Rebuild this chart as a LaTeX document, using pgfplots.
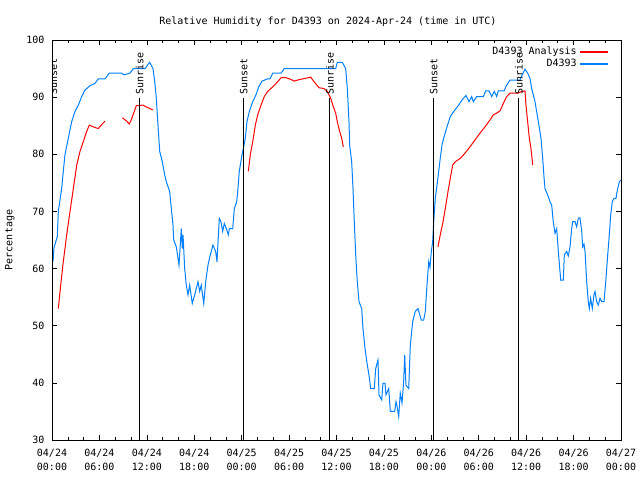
\documentclass[border=0pt]{standalone}
\usepackage{fontspec}
\setmainfont{DejaVu Sans Mono}
\usepackage{pgfplots}
\pgfplotsset{compat=1.18}
\definecolor{gblue}{RGB}{0,128,255}
\definecolor{gred}{RGB}{255,0,0}
\pgfplotstableread{
h v
0.13 61.2
0.25 63.6
0.67 65.6
0.80 70.0
1.23 74.1
1.43 77.0
1.64 79.9
2.06 82.8
2.49 85.7
2.91 87.5
3.33 88.6
3.76 90.1
4.18 91.25
4.81 92.0
5.44 92.4
5.86 93.2
6.71 93.2
7.25 94.2
8.82 94.2
9.11 93.9
9.87 94.2
10.29 95.0
11.77 95.0
12.36 96.1
12.78 95.0
13.00 92.7
13.20 89.8
13.41 85.1
13.63 80.5
13.96 78.7
14.26 76.4
14.46 75.2
14.89 73.5
15.10 70.5
15.31 67.6
15.40 65.0
15.73 63.8
16.07 60.6
16.36 67.0
16.49 63.5
16.58 65.9
16.79 60.0
16.99 57.1
17.21 55.4
17.42 57.1
17.75 53.9
18.06 55.4
18.47 57.7
18.69 56.0
18.89 57.1
19.20 53.9
19.45 57.7
19.74 60.6
20.03 62.4
20.37 64.1
20.71 63.0
20.88 61.2
21.01 64.7
21.17 68.8
21.38 68.2
21.60 66.5
21.80 67.9
22.11 66.8
22.31 65.9
22.44 67.0
22.87 67.0
23.07 70.5
23.37 71.7
23.50 73.5
23.70 77.0
24.04 79.9
24.21 81.0
24.46 82.8
24.67 85.7
24.97 87.5
25.40 89.2
25.81 90.4
26.16 91.8
26.57 92.8
27.29 93.2
27.58 93.2
27.93 94.2
28.98 94.2
29.39 95.0
35.90 95.0
36.10 96.1
36.73 96.1
37.16 95.0
37.37 91.5
37.58 85.7
37.67 81.6
37.92 78.7
38.09 74.0
38.25 68.2
38.43 62.4
38.63 57.7
38.85 54.2
39.19 53.0
39.35 49.5
39.61 46.0
39.90 43.1
40.11 41.4
40.33 39.0
40.78 39.0
40.96 42.5
41.25 44.0
41.38 37.9
41.72 37.0
41.88 39.9
42.14 39.9
42.26 37.9
42.61 39.0
42.81 35.0
43.36 35.0
43.53 36.7
43.66 35.9
43.87 34.1
44.07 38.2
44.29 36.5
44.50 40.2
44.63 44.9
44.79 39.6
45.14 39.0
45.34 46.6
45.64 50.7
45.97 52.5
46.31 53.0
46.48 52.2
46.73 51.0
47.03 51.0
47.24 52.5
47.45 57.1
47.67 61.2
47.83 60.2
48.00 63.0
48.17 64.7
48.30 68.2
48.50 72.3
48.72 74.6
48.93 77.0
49.13 79.3
49.35 81.6
49.56 82.8
49.98 84.8
50.40 86.6
50.83 87.5
51.46 88.6
51.88 89.5
52.39 90.3
52.77 89.2
53.11 90.1
53.31 89.2
53.74 90.1
54.58 90.1
54.88 91.1
55.30 91.1
55.64 90.1
55.97 91.0
56.27 90.1
56.47 91.1
57.23 91.1
57.41 91.8
57.95 93.0
59.22 93.0
59.51 93.9
59.85 94.9
60.19 94.2
60.48 93.3
60.70 91.5
61.12 89.2
61.54 85.7
61.88 82.8
62.09 79.3
62.26 76.0
62.38 74.0
62.72 72.9
63.02 71.7
63.23 71.1
63.43 68.2
63.65 66.2
63.86 67.0
64.07 63.0
64.28 59.5
64.37 58.0
64.70 58.0
64.83 62.4
65.13 63.0
65.33 62.2
65.55 63.8
65.76 67.0
65.89 68.2
66.18 68.2
66.39 67.3
66.60 68.8
66.81 68.9
67.03 66.5
67.15 63.8
67.32 64.3
67.45 63.0
67.66 57.7
67.86 54.2
67.99 53.0
68.16 54.8
68.37 53.0
68.58 55.4
68.71 56.0
68.93 54.2
69.13 53.6
69.34 54.8
69.56 54.2
69.85 54.2
70.07 57.7
70.32 62.4
70.52 65.9
70.70 69.4
70.90 71.7
71.12 72.3
71.37 72.3
71.54 73.75
71.79 75.2
72.00 75.5
}\obs
\pgfplotstableread{
h v
0.80 53.0
1.10 57.1
1.43 61.2
1.86 65.9
2.28 70.0
2.70 74.0
3.13 78.1
3.54 80.5
3.96 82.2
4.39 84.0
4.72 85.1
5.23 84.8
5.86 84.5
6.29 85.2
6.71 85.8
7.5 nan
8.90 86.4
9.45 85.8
9.78 85.3
10.09 86.2
10.25 86.9
10.67 88.5
11.51 88.6
11.93 88.3
12.78 87.75
18 nan
24.84 77.0
25.09 79.9
25.40 82.2
25.73 85.1
26.03 86.9
26.45 88.6
26.86 90.1
27.29 91.0
27.93 91.8
28.56 92.7
28.98 93.4
29.61 93.4
30.24 93.1
30.66 92.8
31.09 93.0
32.10 93.3
32.74 93.5
33.15 92.7
33.79 91.65
34.42 91.5
34.84 91.0
35.27 89.8
35.60 88.3
35.90 87.2
36.10 85.7
36.40 84.0
36.66 82.8
36.86 81.3
42 nan
48.84 63.8
49.13 65.9
49.44 67.9
49.77 70.5
50.11 73.5
50.40 75.8
50.70 78.1
51.03 78.7
51.67 79.3
52.26 80.2
52.89 81.3
53.52 82.5
54.16 83.7
54.79 84.8
55.42 86.0
55.84 86.9
56.27 87.2
56.69 87.6
57.11 88.9
57.54 90.1
57.95 90.7
59.01 90.7
59.43 91.0
59.85 91.1
59.98 88.6
60.19 85.7
60.40 82.8
60.61 81.0
60.83 78.1
}\ana
\begin{document}
\fontsize{10bp}{12bp}\selectfont
\begin{tikzpicture}
\path[use as bounding box] (0,0) rectangle (640bp,480bp);
\begin{axis}[
  at={(52bp,40bp)}, anchor=south west,
  width=569bp, height=400bp, scale only axis,
  xmin=0, xmax=72, ymin=30, ymax=100,
  xtick={0,6,...,72},
  xticklabels={{04/24\\00:00},{04/24\\06:00},{04/24\\12:00},{04/24\\18:00},{04/25\\00:00},{04/25\\06:00},{04/25\\12:00},{04/25\\18:00},{04/26\\00:00},{04/26\\06:00},{04/26\\12:00},{04/26\\18:00},{04/27\\00:00}},
  minor x tick num=2,
  ytick={30,40,...,100},
  tick align=inside,
  major tick length=5bp, minor tick length=3bp,
  tick style={black, line width=0.6bp},
  axis line style={black, line width=0.8bp},
  /pgf/number format/assume math mode=true,
  xticklabel style={align=center, font=\fontsize{10bp}{14bp}\selectfont, yshift=-6bp},
  yticklabel style={font=\fontsize{10bp}{12bp}\selectfont, xshift=-4bp},
  ylabel={Percentage},
  ylabel style={at={(axis description cs:-0.074,0.5)}, anchor=center, font=\fontsize{10bp}{12bp}\selectfont},
  title={Relative Humidity for D4393 on 2024-Apr-24 (time in UTC)},
  title style={at={(0.485,1)}, anchor=south, yshift=4bp, font=\fontsize{10bp}{12bp}\selectfont},
  unbounded coords=jump,
  legend plot pos=right,
  legend cell align=right,
  legend image post style={xscale=1.65, line width=2bp},
  legend style={draw=none, fill=none, at={(1,1)}, anchor=north east, xshift=-12bp, yshift=-5bp,
    inner sep=0pt, row sep=-1bp, font=\fontsize{10bp}{12bp}\selectfont},
]
\addplot[color=gred, line width=1bp] table[x=h, y=v] {\ana};
\addlegendentry{D4393 Analysis}
\addplot[color=gblue, line width=1bp] table[x=h, y=v] {\obs};
\addlegendentry{D4393}
\addplot[black, line width=0.8bp, forget plot] coordinates {(0.09,30) (0.09,89.85)};
\addplot[black, line width=0.8bp, forget plot] coordinates {(11.0,30) (11.0,89.85)};
\addplot[black, line width=0.8bp, forget plot] coordinates {(24.17,30) (24.17,89.85)};
\addplot[black, line width=0.8bp, forget plot] coordinates {(35.05,30) (35.05,89.85)};
\addplot[black, line width=0.8bp, forget plot] coordinates {(48.21,30) (48.21,89.85)};
\addplot[black, line width=0.8bp, forget plot] coordinates {(58.97,30) (58.97,89.85)};
\node[rotate=90, anchor=west, inner sep=1bp] at (axis cs:0.2,90.3) {Sunset};
\node[rotate=90, anchor=west, inner sep=1bp] at (axis cs:11.1,90.3) {Sunrise};
\node[rotate=90, anchor=west, inner sep=1bp] at (axis cs:24.27,90.3) {Sunset};
\node[rotate=90, anchor=west, inner sep=1bp] at (axis cs:35.15,90.3) {Sunrise};
\node[rotate=90, anchor=west, inner sep=1bp] at (axis cs:48.31,90.3) {Sunset};
\node[rotate=90, anchor=west, inner sep=1bp] at (axis cs:59.07,90.3) {Sunrise};
\end{axis}
\end{tikzpicture}
\end{document}
